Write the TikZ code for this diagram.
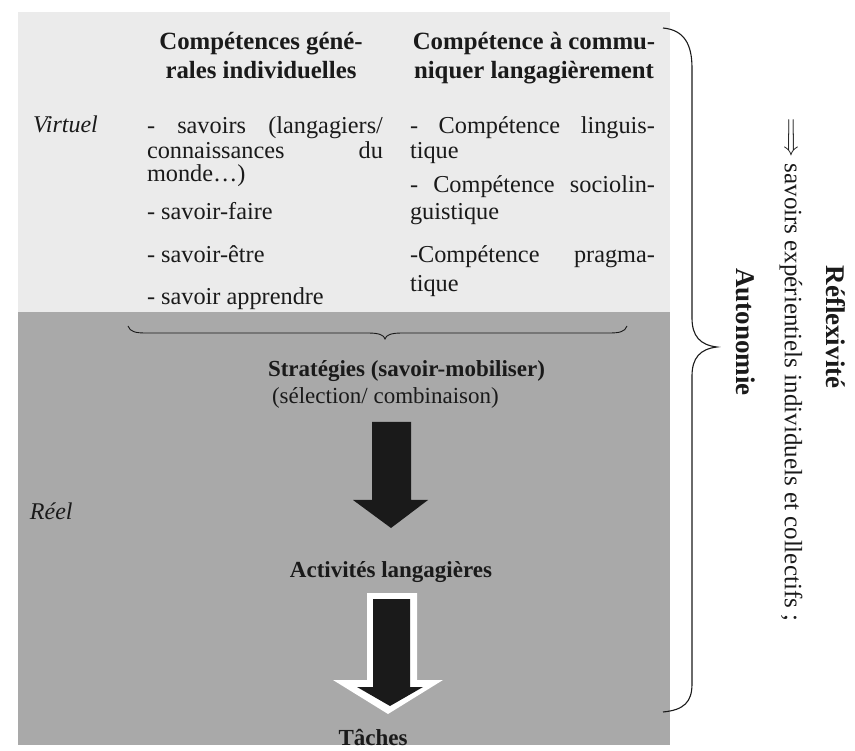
\documentclass[tikz,border=0pt]{standalone}
\usepackage{fontspec}
\setmainfont{Liberation Serif}
\definecolor{lightpanel}{HTML}{EBEBEB}
\definecolor{darkpanel}{HTML}{A9A9A9}
\definecolor{ink}{HTML}{1A1A1A}
\begin{document}
\begin{tikzpicture}[x=1pt,y=-1pt,
  every node/.style={inner sep=0pt, outer sep=0pt, text=ink},
  txt/.style={font=\fontsize{24.3}{28}\selectfont, anchor=base west},
  hd/.style={font=\fontsize{24.8}{28}\selectfont\bfseries, anchor=base},
  side/.style={font=\fontsize{25}{28}\selectfont, rotate=-90, anchor=center},
  sidebf/.style={font=\fontsize{27}{30}\selectfont\bfseries, rotate=-90, anchor=center},
  brace/.style={draw=ink, line width=1.1pt},
  blockarrow/.style={fill=ink}]
\useasboundingbox (0,0) rectangle (855,751);
% panels
\fill[lightpanel] (18,12) rectangle (670,312);
\fill[darkpanel] (18,312) rectangle (670,745);
% left labels
\node[txt, font=\fontsize{24}{28}\selectfont\itshape] (virtuel) at (33,133) {Virtuel};
\node[txt, font=\fontsize{24}{28}\selectfont\itshape] (reel) at (30,519) {Réel};
% column 1
\node[hd] (h1a) at (261,50) {Compétences géné-};
\node[hd] (h1b) at (261,79) {rales individuelles};
\node[txt] (c1a) at (147,134) {\makebox[236pt][s]{- savoirs (langagiers/}};
\node[txt] (c1b) at (147,159) {\makebox[236pt][s]{connaissances du}};
\node[txt] (c1c) at (147,182) {monde…)};
\node[txt] (c1d) at (147,220) {- savoir-faire};
\node[txt] (c1e) at (147,263) {- savoir-être};
\node[txt] (c1f) at (147,305) {- savoir apprendre};
% column 2
\node[hd] (h2a) at (534,50) {Compétence à commu-};
\node[hd] (h2b) at (534,79) {niquer langagièrement};
\node[txt] (c2a) at (410,134) {\makebox[245pt][s]{- Compétence linguis-}};
\node[txt] (c2b) at (410,159) {tique};
\node[txt] (c2c) at (410,193) {\makebox[245pt][s]{- Compétence sociolin-}};
\node[txt] (c2d) at (410,220) {guistique};
\node[txt] (c2e) at (410,263) {\makebox[245pt][s]{-Compétence pragma-}};
\node[txt] (c2f) at (410,292) {tique};
% under brace
\coordinate (ubL) at (128,326);
\coordinate (ubT) at (385,339);
\coordinate (ubR) at (627,326);
\draw[brace, line width=0.9pt] (ubL) .. controls (130,332) and (136,333) .. (146,333) -- (368,333) .. controls (379,333) and (384,335) .. (ubT) .. controls (386,335) and (391,333) .. (402,333) -- (609,333) .. controls (619,333) and (625,332) .. (ubR);
% middle texts
\node[txt, font=\fontsize{23}{28}\selectfont\bfseries] (strat) at (268,377) {Stratégies (savoir-mobiliser)};
\node[txt, font=\fontsize{23}{28}\selectfont] (selec) at (272,404) {(sélection/ combinaison)};
\node[hd, font=\fontsize{23}{28}\selectfont\bfseries] (activ) at (391,577) {Activités langagières};
\node[hd, font=\fontsize{23}{28}\selectfont\bfseries] (taches) at (373,745) {Tâches};
% block arrow 1
\fill[blockarrow] (372,422) -- (411,422) -- (411,500) -- (428,500) -- (391,528) -- (353,500) -- (372,500) -- cycle;
% block arrow 2 (white outline)
\fill[white] (367,593) -- (417,593) -- (417,680) -- (443,680) -- (388,714) -- (333,680) -- (367,680) -- cycle;
\fill[blockarrow] (373,599) -- (410,599) -- (410,687) -- (423,687) -- (390,706) -- (357,687) -- (373,687) -- cycle;
% right brace
\coordinate (rbT) at (663,28);
\coordinate (rbM) at (717,347);
\coordinate (rbB) at (663,712);
\draw[brace] (rbT) .. controls (684,30) and (692,44) .. (692,68) -- (692,318) .. controls (692,336) and (700,345) .. (rbM) .. controls (700,349) and (692,358) .. (692,376) -- (692,684) .. controls (692,702) and (684,710) .. (rbB);
% right texts
\node[sidebf] (autonomie) at (746,332) {Autonomie};
\node[side] (savoirs) at (791,370) {$\Longrightarrow$\ savoirs expérientiels individuels et collectifs ;};
\node[sidebf] (reflex) at (836,327) {Réflexivité};
\end{tikzpicture}
\end{document}
